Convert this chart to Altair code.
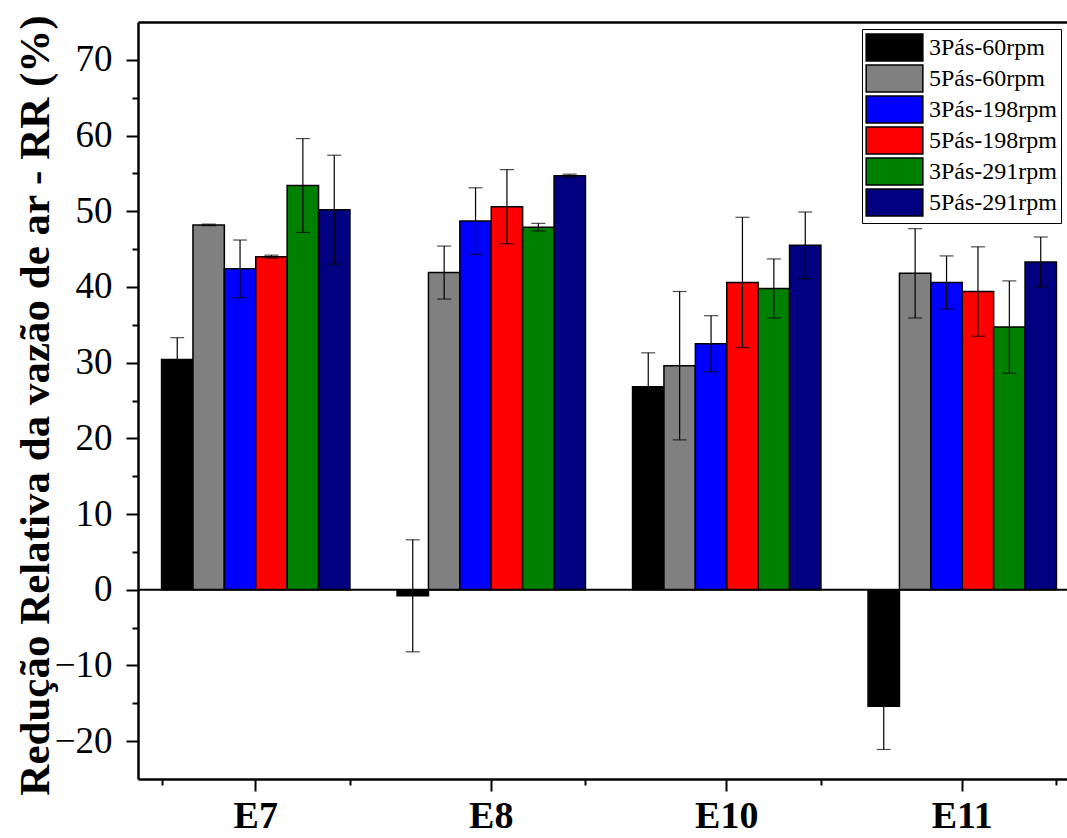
import altair as alt
import pandas as pd

groups = ["E7", "E8", "E10", "E11"]
series = ["3Pás-60rpm", "5Pás-60rpm", "3Pás-198rpm", "5Pás-198rpm", "3Pás-291rpm", "5Pás-291rpm"]
colors = ["#000000", "#808080", "#0000FF", "#FF0000", "#008000", "#000080"]

val_3p60 = [30.4, -0.8, 26.8, -15.4]
val_5p60 = [48.2, 41.9, 29.6, 41.8]
val_3p198 = [42.4, 48.7, 32.5, 40.6]
val_5p198 = [44.0, 50.6, 40.6, 39.4]
val_3p291 = [53.4, 47.9, 39.8, 34.7]
val_5p291 = [50.2, 54.7, 45.5, 43.3]

err_3p60 = [2.9, 7.4, 4.5, 5.7]
err_5p60 = [0.1, 3.5, 9.8, 5.9]
err_3p198 = [3.8, 4.4, 3.7, 3.5]
err_5p198 = [0.2, 4.9, 8.6, 5.9]
err_3p291 = [6.2, 0.5, 3.9, 6.1]
err_5p291 = [7.2, 0.2, 4.4, 3.3]

values = [val_3p60, val_5p60, val_3p198, val_5p198, val_3p291, val_5p291]
errors = [err_3p60, err_5p60, err_3p198, err_5p198, err_3p291, err_5p291]

rows = []
for s, vals, errs in zip(series, values, errors):
    for g, v, e in zip(groups, vals, errs):
        rows.append({"group": g, "series": s, "value": v, "lo": v - e, "hi": v + e})
df = pd.DataFrame(rows)

FONT = "Liberation Serif"
W, H = 929, 757      # visible plot width (window edge); the band range runs past it
XR = 942             # full x range of the plot frame, partly beyond the window

xscale = alt.Scale(domain=groups, paddingInner=0.2, paddingOuter=0.1, range=[0, XR])
xo = alt.XOffset("series:N", scale=alt.Scale(domain=series, paddingInner=0, paddingOuter=0))
yscale = alt.Scale(domain=[-25, 75], nice=False, zero=False)

x_main = alt.X(
    "group:N", scale=xscale,
    axis=alt.Axis(title=None, orient="bottom", labelFont=FONT, labelFontSize=38,
                  labelFontWeight="bold", labelColor="black", labelAngle=0,
                  tickSize=12, tickWidth=2, tickColor="black", labelPadding=6,
                  domain=True, domainColor="black", domainWidth=2.5, grid=False),
)
x_minor = alt.X(
    "group:N", scale=xscale,
    axis=alt.Axis(title=None, orient="bottom", labels=False, tickBand="extent",
                  tickSize=6, tickWidth=2, tickColor="black", domain=False, grid=False),
)
x_top = alt.X(
    "group:N", scale=xscale,
    axis=alt.Axis(title=None, orient="top", labels=False, ticks=False,
                  domain=True, domainColor="black", domainWidth=2.5, grid=False),
)

y_main = alt.Y(
    "value:Q", scale=yscale,
    axis=alt.Axis(orient="left", values=list(range(-20, 71, 10)), labelFont=FONT,
                  labelFontSize=37, labelColor="black", tickSize=12, tickWidth=2,
                  tickColor="black", labelPadding=14, domain=True,
                  domainColor="black", domainWidth=2.5, grid=False,
                  title="Redução Relativa da vazão de ar - RR (%)", titleFont=FONT,
                  titleFontSize=43, titleFontWeight="bold", titleColor="black",
                  titleAngle=270, titleX=-103, titleY=383, titleAlign="center",
                  titleBaseline="middle"),
)
y_minor = alt.Y(
    "lo:Q", scale=yscale,
    axis=alt.Axis(orient="left", values=list(range(-15, 70, 10)), labels=False,
                  tickSize=6, tickWidth=2, tickColor="black", domain=False,
                  grid=False, title=None),
)

bars = alt.Chart(df).mark_bar(stroke="black", strokeWidth=1.5, opacity=1).encode(
    x=x_main,
    xOffset=xo,
    y=y_main,
    y2=alt.datum(0),
    color=alt.Color(
        "series:N",
        scale=alt.Scale(domain=series, range=colors),
        legend=alt.Legend(
            orient="none", legendX=724, legendY=7, title=None,
            labelFont=FONT, labelFontSize=24, labelColor="black",
            symbolType="M-2.1,-1H2.1V1H-2.1Z", symbolSize=729,
            symbolStrokeColor="black", symbolStrokeWidth=1.5, symbolOpacity=1,
            symbolOffset=14, labelOffset=20,
            strokeColor="black", fillColor="white", padding=4, rowPadding=-2,
        ),
    ),
)

zero = alt.Chart(pd.DataFrame({"z": [0]})).mark_rule(color="black", strokeWidth=2).encode(
    y=alt.Y("z:Q", scale=yscale, axis=None)
)

err_rules = alt.Chart(df).mark_rule(color="black", strokeWidth=1.2).encode(
    x=x_minor,
    xOffset=xo,
    y=y_minor,
    y2="hi:Q",
)

caps = alt.Chart(df).transform_fold(["lo", "hi"], as_=["k", "end"]).mark_tick(
    orient="horizontal", size=14, thickness=1.2, color="black"
).encode(
    x=x_top,
    xOffset=xo,
    y=alt.Y("end:Q", scale=yscale, axis=None),
)

chart = (
    alt.layer(bars, zero, err_rules, caps)
    .resolve_axis(x="independent", y="independent")
    .properties(
        width=W, height=H,
        autosize=alt.AutoSizeParams(type="none"),
        padding={"left": 138, "top": 22, "right": 0, "bottom": 59},
    )
    .configure_view(stroke=None)
    .configure_axis(grid=False)
)

chart.save("out.html", embed_options={"renderer": "svg", "actions": False})
